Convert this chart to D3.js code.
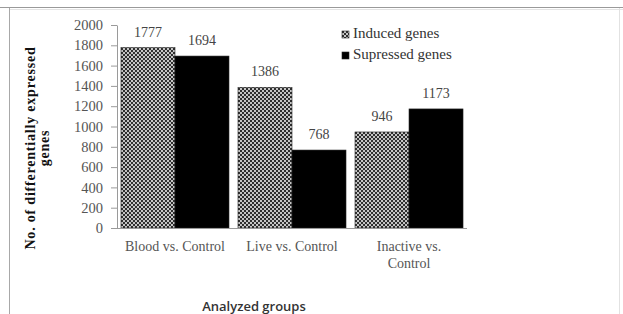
<!DOCTYPE html>
<html>
<head>
<meta charset="utf-8">
<script src="https://cdn.jsdelivr.net/npm/d3@7/dist/d3.min.js"></script>
<style>
body { margin: 0; background: #fff; }
svg { display: block; }
</style>
</head>
<body>
<div id="chart"></div>
<script>
var groups = ["Blood vs. Control", "Live vs. Control", "Inactive vs. Control"];
var induced = [1777, 1386, 946];
var suppressed = [1694, 768, 1173];
var seriesNames = ["Induced genes", "Supressed genes"];
var yTicks = [0, 200, 400, 600, 800, 1000, 1200, 1400, 1600, 1800, 2000];

var svg = d3.select("#chart").append("svg")
    .attr("width", 623)
    .attr("height", 314);

// checkered fill for the induced bars
var defs = svg.append("defs");
var pat = defs.append("pattern")
    .attr("id", "dots")
    .attr("patternUnits", "userSpaceOnUse")
    .attr("width", 4)
    .attr("height", 4);
pat.append("rect").attr("width", 4).attr("height", 4).attr("fill", "#c6c6c6");
pat.append("rect").attr("width", 2).attr("height", 2).attr("fill", "#2e2e2e");
pat.append("rect").attr("x", 2).attr("y", 2).attr("width", 2).attr("height", 2).attr("fill", "#2e2e2e");

// frame
svg.append("line").attr("x1", 0).attr("x2", 623).attr("y1", 7.5).attr("y2", 7.5)
    .attr("stroke", "#9a9a9a").attr("stroke-width", 1);
svg.append("line").attr("x1", 9.5).attr("x2", 623).attr("y1", 9.5).attr("y2", 9.5)
    .attr("stroke", "#e4e4e4").attr("stroke-width", 1);
svg.append("line").attr("x1", 9.5).attr("x2", 9.5).attr("y1", 8).attr("y2", 314)
    .attr("stroke", "#a8a8a8").attr("stroke-width", 1);
svg.append("line").attr("x1", 619.5).attr("x2", 619.5).attr("y1", 8).attr("y2", 314)
    .attr("stroke", "#e2e2e2").attr("stroke-width", 1);

var data = groups.map(function(g, i) {
    return {group: g, values: [induced[i], suppressed[i]]};
});

var x0 = d3.scaleBand()
    .domain(groups)
    .range([117, 467])
    .paddingInner(0.077)
    .paddingOuter(0.034);

var x1 = d3.scaleBand()
    .domain([0, 1])
    .range([0, x0.bandwidth()]);

var y = d3.scaleLinear()
    .domain([0, 2000])
    .range([228, 25]);

var serif = "'Liberation Serif', 'Times New Roman', serif";

// y axis
var yAxis = svg.append("g")
    .attr("transform", "translate(117,0)")
    .call(d3.axisLeft(y).tickValues(yTicks).tickFormat(d3.format("d"))
        .tickSize(6).tickPadding(8).tickSizeOuter(0));
yAxis.select(".domain").attr("stroke", "#9a9a9a");
yAxis.selectAll(".tick line").attr("stroke", "#9a9a9a");
yAxis.selectAll(".tick text")
    .attr("fill", "#555")
    .style("font-family", serif)
    .style("font-size", "14.5px");

// bars
var g = svg.selectAll(".grp")
    .data(data)
    .enter().append("g")
    .attr("class", "grp")
    .attr("transform", function(d) { return "translate(" + x0(d.group) + ",0)"; });

g.selectAll("rect")
    .data(function(d) { return d.values; })
    .enter().append("rect")
    .attr("x", function(d, i) { return x1(i); })
    .attr("y", function(d) { return y(d); })
    .attr("width", x1.bandwidth())
    .attr("height", function(d) { return y(0) - y(d); })
    .attr("fill", function(d, i) { return i == 0 ? "url(#dots)" : "#000"; })
    .attr("stroke", "#222")
    .attr("stroke-width", 0.6);

g.selectAll(".val")
    .data(function(d) { return d.values; })
    .enter().append("text")
    .attr("class", "val")
    .attr("x", function(d, i) { return x1(i) + x1.bandwidth() / 2; })
    .attr("y", function(d) { return y(d) - 11; })
    .attr("text-anchor", "middle")
    .attr("fill", "#444")
    .style("font-family", serif)
    .style("font-size", "14px")
    .text(function(d) { return d; });

// x axis line
svg.append("line")
    .attr("x1", 117).attr("x2", 467)
    .attr("y1", y(0) + 0.5).attr("y2", y(0) + 0.5)
    .attr("stroke", "#9a9a9a");

// category labels (wrapped like the original)
var catLines = {
    "Blood vs. Control": ["Blood vs. Control"],
    "Live vs. Control": ["Live vs. Control"],
    "Inactive vs. Control": ["Inactive vs.", "Control"]
};
groups.forEach(function(c) {
    var t = svg.append("text")
        .attr("text-anchor", "middle")
        .attr("fill", "#555")
        .style("font-family", serif)
        .style("font-size", "14px");
    catLines[c].forEach(function(s, k) {
        t.append("tspan")
            .attr("x", x0(c) + x0.bandwidth() / 2)
            .attr("y", 251 + k * 17)
            .text(s);
    });
});

// y title
var yt = svg.append("text")
    .attr("transform", "translate(35,148) rotate(-90)")
    .attr("text-anchor", "middle")
    .attr("fill", "#111")
    .style("font-family", serif)
    .style("font-size", "14px")
    .style("font-weight", "bold")
    .style("letter-spacing", "0.8px");
yt.append("tspan").attr("x", 0).attr("y", 0).text("No. of differentially expressed");
yt.append("tspan").attr("x", 0).attr("y", 14).text("genes");

// x title
svg.append("text")
    .attr("x", 254)
    .attr("y", 311)
    .attr("text-anchor", "middle")
    .attr("fill", "#333")
    .style("font-family", "'Open Sans', sans-serif")
    .style("font-size", "13px")
    .style("font-weight", "600")
    .text("Analyzed groups");

// legend
var legend = svg.selectAll(".leg")
    .data(seriesNames)
    .enter().append("g")
    .attr("class", "leg")
    .attr("transform", function(d, i) { return "translate(342," + (31 + i * 21) + ")"; });
legend.append("rect")
    .attr("width", 7)
    .attr("height", 7)
    .attr("fill", function(d, i) { return i == 0 ? "url(#dots)" : "#000"; })
    .attr("stroke", "#222")
    .attr("stroke-width", 0.6);
legend.append("text")
    .attr("x", 11)
    .attr("y", 7)
    .attr("fill", "#333")
    .style("font-family", serif)
    .style("font-size", "15px")
    .text(function(d) { return d; });
</script>
</body>
</html>
